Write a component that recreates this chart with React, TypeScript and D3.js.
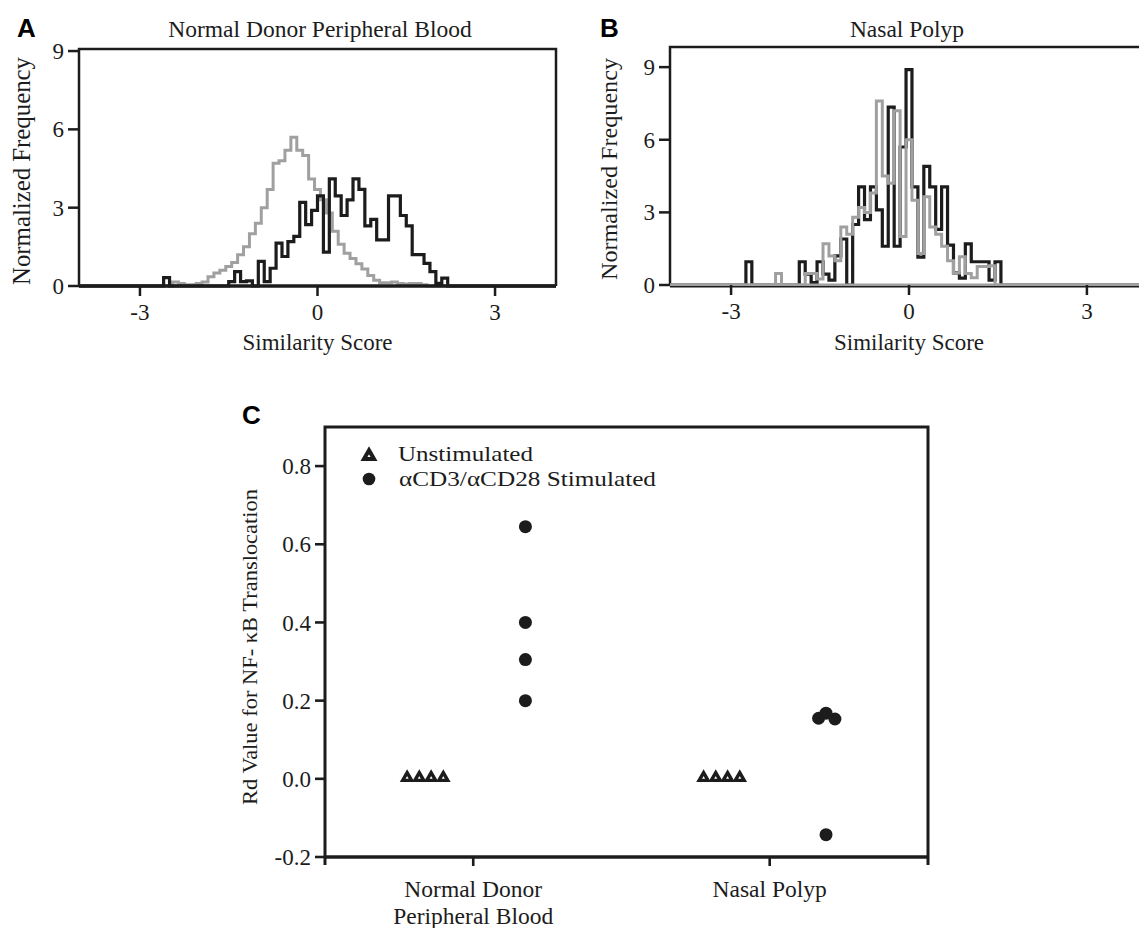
import React from 'react';
import * as d3 from 'd3';

// ---------- DATA ----------
const binWidth = 0.1;
// Panel A: Normal Donor Peripheral Blood (left edge of first bin + normalized frequencies)
const normalGrayStart = -2.45;
const normalGray = [0.15, 0.1, 0.05, 0.05, 0.1, 0.15, 0.35, 0.5, 0.6, 0.75, 0.9, 1.2, 1.5, 2.0, 2.4, 3.0, 3.7, 4.7, 4.8, 5.2, 5.7, 5.2, 5.0, 4.1, 3.7, 3.3, 2.8, 2.1, 1.6, 1.25, 1.05, 0.85, 0.65, 0.4, 0.22, 0.12, 0.12, 0.15, 0.1, 0.08, 0.1, 0.1, 0.05];
const normalBlackStart = -2.6;
const normalBlack = [0.32, 0, 0, 0, 0, 0, 0, 0, 0, 0, 0, 0.17, 0.55, 0.17, 0.2, 0.0, 0.94, 0.17, 0.68, 1.64, 1.13, 1.7, 1.9, 3.2, 2.35, 2.9, 3.45, 1.3, 4.1, 3.45, 2.7, 3.3, 4.1, 3.7, 2.3, 2.55, 1.77, 1.77, 3.45, 3.45, 2.7, 2.3, 1.2, 1.2, 0.87, 0.55, 0.1, 0.3];
// Panel B: Nasal Polyp
const polypGrayStart = -2.25;
const polypGray = [0.48, 0, 0, 0, 0, 0.48, 0.48, 0.25, 1.7, 1.2, 1.0, 2.4, 2.1, 2.8, 3.2, 3.0, 3.8, 7.6, 4.5, 4.2, 7.2, 2.0, 6.0, 3.5, 1.3, 3.65, 2.4, 2.1, 1.6, 1.0, 0.5, 1.17, 0.48, 0.3, 0.76, 0.76, 0.8];
const polypBlackStart = -2.75;
const polypBlack = [0.96, 0, 0, 0, 0, 0, 0, 0, 0, 0.96, 0.45, 0.1, 0.96, 0.45, 0.2, 1.2, 1.9, 0.0, 2.5, 4.05, 2.7, 4.05, 3.1, 1.6, 7.35, 1.6, 5.7, 8.9, 4.05, 1.15, 4.9, 4.05, 2.3, 4.05, 1.65, 0.5, 0.28, 1.7, 0.96, 0.96, 0.96, 0.2, 0.96];

const histXTicks = [-3, 0, 3];
const histYTicks = [0, 3, 6, 9];

// Panel C
const groupPositions = [1, 2];
const groupLabels = [['Normal Donor', 'Peripheral Blood'], ['Nasal Polyp']];
const unstimOffsets = [-0.223, -0.182, -0.142, -0.101];
const unstimNormal = [0, 0, 0, 0];
const unstimPolyp = [0, 0, 0, 0];
const stimNormalOffsets = [0.176, 0.176, 0.176, 0.176];
const stimNormal = [0.645, 0.40, 0.305, 0.20];
const stimPolypOffsets = [0.165, 0.19, 0.22, 0.19];
const stimPolyp = [0.155, 0.168, 0.153, -0.143];
const cYTicks = [-0.2, 0, 0.2, 0.4, 0.6, 0.8];
const legendLabels = ['Unstimulated', '\u03b1CD3/\u03b1CD28 Stimulated'];

// ---------- STYLE ----------
const SERIF = "'Liberation Serif', 'Times New Roman', serif";
const SANS = "'Liberation Sans', Arial, sans-serif";
const INK = '#1c1c1c';
const GRAY = '#a0a0a0';

function stepPath(start: number, values: number[], x: any, y: any, xmin: number, xmax: number) {
  const pts: [number, number][] = [[xmin, 0]];
  values.forEach((v, i) => pts.push([start + i * binWidth, v]));
  pts.push([start + values.length * binWidth, 0]);
  pts.push([xmax, 0]);
  const line = d3.line<[number, number]>().x(d => x(d[0])).y(d => y(d[1])).curve(d3.curveStepAfter);
  return line(pts) || '';
}

function HistPanel(props: {
  letter: string; letterX: number; title: string; titleX: number;
  x0: number; x1: number; yTop: number; yBottom: number; yMax: number;
  grayStart: number; gray: number[]; blackStart: number; black: number[];
  grayOnTop: boolean; yLabelX: number; yLabelY: number; yLabelLen: number; yLabelSize: number;
}) {
  const p = props;
  const x = d3.scaleLinear().domain([-4.03, 4.03]).range([p.x0, p.x1]);
  const y = d3.scaleLinear().domain([0, p.yMax]).range([p.yBottom, p.yTop]);
  const grayD = stepPath(p.grayStart, p.gray, x, y, -4.03, 4.03);
  const blackD = stepPath(p.blackStart, p.black, x, y, -4.03, 4.03);
  const grayEl = <path d={grayD} fill="none" stroke={GRAY} strokeWidth={3} strokeLinejoin="miter" />;
  const blackEl = <path d={blackD} fill="none" stroke={INK} strokeWidth={3.2} strokeLinejoin="miter" />;
  const cx = x(0);
  return (
    <g>
      <text x={p.letterX} y={37} fontFamily={SANS} fontWeight="bold" fontSize={26} fill="#000">{p.letter}</text>
      <text x={p.titleX} y={37} fontFamily={SERIF} fontSize={23.5} textAnchor="middle" fill={INK}>{p.title}</text>
      <path d={`M${p.x0},${p.yBottom}V${p.yTop - 1}H${p.x1}V${p.yBottom}`} fill="none" stroke={INK} strokeWidth={2.5} />
      {p.grayOnTop ? blackEl : grayEl}
      {p.grayOnTop ? grayEl : blackEl}
      <line x1={p.x0} x2={p.x1} y1={p.yBottom} y2={p.yBottom} stroke={p.grayOnTop ? GRAY : INK} strokeWidth={p.grayOnTop ? 3 : 3.6} />
      {p.grayOnTop && <line x1={p.x0} x2={p.x1} y1={p.yBottom + 1.8} y2={p.yBottom + 1.8} stroke={INK} strokeWidth={1.4} />}
      {histYTicks.map(t => (
        <g key={'y' + t}>
          <line x1={p.x0 - 11} x2={p.x0} y1={y(t)} y2={y(t)} stroke={INK} strokeWidth={2.5} />
          <text x={p.x0 - 15} y={y(t)} dy="0.35em" textAnchor="end" fontFamily={SERIF} fontSize={23} fill={INK}>{String(t)}</text>
        </g>
      ))}
      {histXTicks.map(t => (
        <g key={'x' + t}>
          <line x1={x(t)} x2={x(t)} y1={p.yBottom} y2={p.yBottom + 10} stroke={INK} strokeWidth={2.5} />
          <text x={x(t)} y={p.yBottom + 34} textAnchor="middle" fontFamily={SERIF} fontSize={23} fill={INK}>{String(t)}</text>
        </g>
      ))}
      <text x={cx} y={350} textAnchor="middle" fontFamily={SERIF} fontSize={23} fill={INK} textLength={150} lengthAdjust="spacingAndGlyphs">Similarity Score</text>
      <text transform={`translate(${p.yLabelX},${p.yLabelY}) rotate(-90)`} textAnchor="middle" fontFamily={SERIF} fontSize={p.yLabelSize} fill={INK} textLength={p.yLabelLen} lengthAdjust="spacingAndGlyphs">Normalized Frequency</text>
    </g>
  );
}

function PanelC() {
  const x = d3.scaleLinear().domain([0.5, 2.534]).range([325, 928]);
  const y = d3.scaleLinear().domain([-0.2, 0.9]).range([857, 427]);
  const tri = d3.symbol().type(d3.symbolTriangle).size(34)() || '';
  const triLegend = d3.symbol().type(d3.symbolTriangle).size(44)() || '';
  const unstim = [
    ...unstimNormal.map((v, i) => ({ x: groupPositions[0] + unstimOffsets[i], v })),
    ...unstimPolyp.map((v, i) => ({ x: groupPositions[1] + unstimOffsets[i], v })),
  ];
  const stim = [
    ...stimNormal.map((v, i) => ({ x: groupPositions[0] + stimNormalOffsets[i], v })),
    ...stimPolyp.map((v, i) => ({ x: groupPositions[1] + stimPolypOffsets[i], v })),
  ];
  const left = x(0.5), right = x(2.534), top = y(0.9), bottom = y(-0.2);
  return (
    <g>
      <text x={242} y={424} fontFamily={SANS} fontWeight="bold" fontSize={26} fill="#000">C</text>
      <path d={`M${left},${bottom + 8}V${top}H${right}V${bottom + 8}`} fill="none" stroke={INK} strokeWidth={3} />
      <line x1={left} x2={right} y1={bottom} y2={bottom} stroke={INK} strokeWidth={3.4} />
      {cYTicks.map(t => (
        <g key={'cy' + t}>
          <line x1={left - 10} x2={left} y1={y(t)} y2={y(t)} stroke={INK} strokeWidth={2.6} />
          <text x={left - 14} y={y(t)} dy="0.35em" textAnchor="end" fontFamily={SERIF} fontSize={23} fill={INK}>{t.toFixed(1)}</text>
        </g>
      ))}
      {groupPositions.map((g, gi) => (
        <g key={'cx' + g}>
          <line x1={x(g)} x2={x(g)} y1={bottom} y2={bottom + 9} stroke={INK} strokeWidth={2.6} />
          {groupLabels[gi].map((l, li) => (
            <text key={l} x={x(g)} y={897 + li * 27} textAnchor="middle" fontFamily={SERIF} fontSize={23.5} fill={INK}>{l}</text>
          ))}
        </g>
      ))}
      <text transform={`translate(257,647) rotate(-90)`} textAnchor="middle" fontFamily={SERIF} fontSize={22} fill={INK} textLength={316} lengthAdjust="spacingAndGlyphs">Rd Value for NF- κB Translocation</text>
      {unstim.map((d, i) => (
        <path key={'u' + i} d={tri} transform={`translate(${x(d.x)},${y(d.v) - 1})`} fill="#fff" stroke={INK} strokeWidth={3.4} strokeLinejoin="miter" />
      ))}
      {stim.map((d, i) => (
        <circle key={'s' + i} cx={x(d.x)} cy={y(d.v)} r={6.5} fill={INK} />
      ))}
      {/* legend */}
      <path d={triLegend} transform="translate(369,456)" fill="#fff" stroke={INK} strokeWidth={4} />
      <text x={398} y={461} fontFamily={SERIF} fontSize={22} fill={INK} textLength={135} lengthAdjust="spacingAndGlyphs">{legendLabels[0]}</text>
      <circle cx={369} cy={479} r={6.3} fill={INK} />
      <text x={399} y={486} fontFamily={SERIF} fontSize={22} fill={INK} textLength={257} lengthAdjust="spacingAndGlyphs">{legendLabels[1]}</text>
    </g>
  );
}

export default function App() {
  return (
    <svg width={1139} height={928} viewBox="0 0 1139 928" style={{ position: 'absolute', left: 0, top: 0, background: '#fff' }}>
      <rect x={0} y={0} width={1139} height={928} fill="#fff" />
      <HistPanel letter="A" letterX={17} title="Normal Donor Peripheral Blood" titleX={320}
        x0={79} x1={556} yTop={50} yBottom={286} yMax={9.04}
        grayStart={normalGrayStart} gray={normalGray} blackStart={normalBlackStart} black={normalBlack}
        grayOnTop={false} yLabelX={30} yLabelY={171} yLabelLen={228} yLabelSize={24.5} />
      <HistPanel letter="B" letterX={600} title="Nasal Polyp" titleX={907}
        x0={670} x1={1148} yTop={48} yBottom={285} yMax={9.79}
        grayStart={polypGrayStart} gray={polypGray} blackStart={polypBlackStart} black={polypBlack}
        grayOnTop={true} yLabelX={617} yLabelY={169} yLabelLen={222} yLabelSize={23.5} />
      <PanelC />
    </svg>
  );
}
